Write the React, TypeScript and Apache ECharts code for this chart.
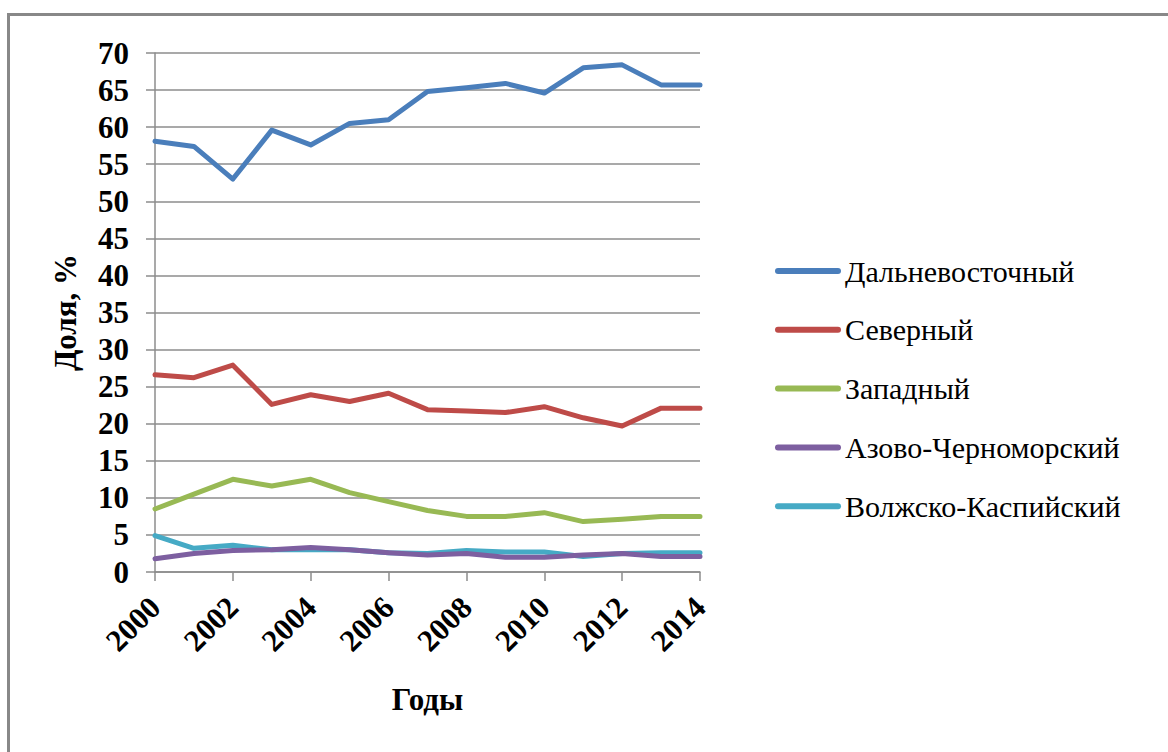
import React, { useEffect, useRef } from "react";
import * as echarts from "echarts";

const years = ["2000","2001","2002","2003","2004","2005","2006","2007","2008","2009","2010","2011","2012","2013","2014"];
const farEast = [58.1, 57.4, 53.0, 59.6, 57.6, 60.5, 61.0, 64.8, 65.3, 65.9, 64.6, 68.0, 68.4, 65.7, 65.7];
const north = [26.6, 26.2, 27.9, 22.6, 23.9, 23.0, 24.1, 21.9, 21.7, 21.5, 22.3, 20.8, 19.7, 22.1, 22.1];
const west = [8.5, 10.5, 12.5, 11.6, 12.5, 10.7, 9.5, 8.3, 7.5, 7.5, 8.0, 6.8, 7.1, 7.5, 7.5];
const azovBlack = [1.8, 2.5, 2.9, 3.0, 3.3, 3.0, 2.6, 2.3, 2.5, 2.0, 2.0, 2.3, 2.5, 2.1, 2.1];
const volgaCaspian = [4.9, 3.2, 3.6, 3.0, 3.0, 3.0, 2.6, 2.5, 2.9, 2.7, 2.7, 2.1, 2.5, 2.6, 2.6];

const seriesNames = ["Дальневосточный", "Северный", "Западный", "Азово-Черноморский", "Волжско-Каспийский"];
const seriesData = [farEast, north, west, azovBlack, volgaCaspian];
const colors = ["#4A7EBB", "#BE4B48", "#98B954", "#7D5FA0", "#46AAC5"];

const FONT = "Liberation Serif";

export default function App() {
  const ref = useRef<HTMLDivElement>(null);
  useEffect(() => {
    if (!ref.current) return;
    const chart = echarts.init(ref.current, null, { renderer: "svg" });
    const legendTop = 271;
    const legendStep = 58.8;
    const legendGraphics: any[] = [];
    seriesNames.forEach((name, i) => {
      const y = legendTop + i * legendStep;
      legendGraphics.push({
        type: "line",
        shape: { x1: 778, y1: y, x2: 838, y2: y },
        style: { stroke: colors[i], lineWidth: 6, lineCap: "round" },
      });
      legendGraphics.push({
        type: "text",
        x: 845,
        y,
        style: {
          text: name,
          fontFamily: FONT,
          fontSize: 30,
          fontWeight: "normal",
          fill: "#000",
          verticalAlign: "middle",
          align: "left",
        },
      });
    });
    chart.setOption({
      animation: false,
      backgroundColor: "#ffffff",
      color: colors,
      textStyle: { fontFamily: FONT },
      graphic: [
        { type: "rect", shape: { x: 8, y: 13, width: 1160, height: 3 }, style: { fill: "#888888" } },
        { type: "rect", shape: { x: 7, y: 13, width: 3, height: 739 }, style: { fill: "#888888" } },
        ...legendGraphics,
      ],
      grid: { left: 155, right: 468, top: 53, bottom: 180, containLabel: false },
      legend: { show: false, data: seriesNames },
      xAxis: {
        type: "category",
        data: years,
        boundaryGap: false,
        name: "Годы",
        nameLocation: "middle",
        nameGap: 112,
        nameTextStyle: { fontFamily: FONT, fontSize: 31, fontWeight: "bold", color: "#000" },
        axisLine: { lineStyle: { color: "#8c8c8c", width: 1.5 } },
        axisTick: { show: true, interval: 1, length: 9, lineStyle: { color: "#8c8c8c", width: 1.5 } },
        axisLabel: {
          interval: 1,
          rotate: 45,
          margin: 30,
          fontFamily: FONT,
          fontSize: 31,
          fontWeight: "bold",
          color: "#000",
        },
        splitLine: { show: false },
      },
      yAxis: {
        type: "value",
        min: 0,
        max: 70,
        interval: 5,
        name: "Доля, %",
        nameLocation: "middle",
        nameGap: 74,
        nameTextStyle: { fontFamily: FONT, fontSize: 31, fontWeight: "bold", color: "#000" },
        axisLine: { show: true, lineStyle: { color: "#8c8c8c", width: 1.5 } },
        axisTick: { show: true, length: 9, lineStyle: { color: "#8c8c8c", width: 1.5 } },
        axisLabel: { margin: 26, fontFamily: FONT, fontSize: 31, fontWeight: "bold", color: "#000" },
        splitLine: { show: true, lineStyle: { color: "#8c8c8c", width: 1.5 } },
      },
      series: seriesNames.map((name, i) => ({
        name,
        type: "line",
        data: seriesData[i],
        symbol: "none",
        lineStyle: { width: 5, color: colors[i], cap: "round", join: "round" },
        itemStyle: { color: colors[i] },
        z: 10 - i,
      })),
    });
    return () => chart.dispose();
  }, []);
  return <div ref={ref} style={{ position: "absolute", left: 0, top: 0, width: 1168, height: 752 }} />;
}
